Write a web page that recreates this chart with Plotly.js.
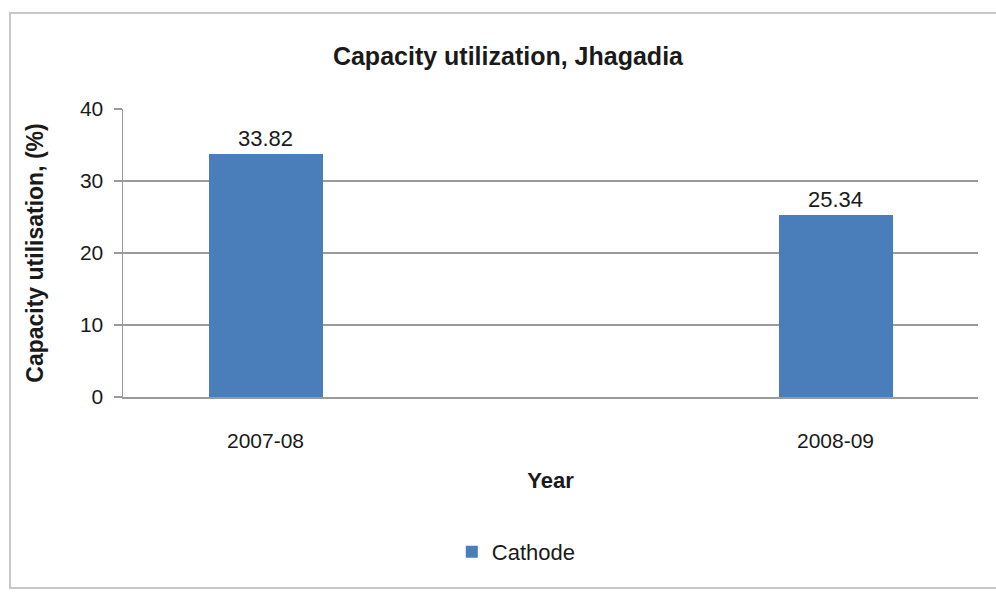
<!DOCTYPE html>
<html>
<head>
<meta charset="utf-8">
<script src="https://cdn.plot.ly/plotly-3.0.1.min.js"></script>
<style>
  html, body { margin: 0; padding: 0; background: #ffffff; overflow: hidden; }
  #wrap { position: relative; width: 996px; height: 592px; overflow: hidden; }
  #chart { width: 996px; height: 592px; }
  #frame { position: absolute; left: 9px; top: 12px; width: 1000px; height: 577px;
           border: 2px solid #c8c8c8; box-sizing: border-box; pointer-events: none; }
</style>
</head>
<body>
<div id="wrap">
  <div id="chart"></div>
  <div id="frame"></div>
</div>
<script>
const years = ["2007-08", "2008-09"];
const cathode = [33.82, 25.34];
const yTicks = [0, 10, 20, 30, 40];

const FONT = "'Liberation Sans Narrow', 'Arial Narrow', 'Liberation Sans', Arial, sans-serif";
const TXT = "#1a1a1a";
const GRID = "#9a9a9a";

const trace = {
  type: "bar",
  name: "Cathode",
  x: years,
  y: cathode,
  width: 0.2,
  marker: { color: "#4a7ebb" },
  text: cathode.map(v => v.toFixed(2)),
  textposition: "outside",
  textfont: { family: FONT, size: 22, color: TXT },
  cliponaxis: false,
  hoverinfo: "x+y"
};

const layout = {
  width: 996,
  height: 592,
  margin: { l: 123, r: 18, t: 109, b: 195 },
  paper_bgcolor: "#ffffff",
  plot_bgcolor: "#ffffff",
  font: { family: FONT, color: TXT },
  title: {
    text: "<b>Capacity utilization, Jhagadia</b>",
    font: { family: FONT, size: 25, color: TXT },
    x: 0.51, xanchor: "center",
    y: 0.905, yanchor: "middle"
  },
  xaxis: {
    type: "category",
    range: [-0.25, 1.25],
    showgrid: false,
    showline: true,
    linecolor: GRID,
    linewidth: 1.5,
    ticks: "",
    ticklabelstandoff: 24,
    tickfont: { family: FONT, size: 21, color: TXT },
    title: { text: "<b>Year</b>", font: { family: FONT, size: 22, color: TXT }, standoff: 22 }
  },
  yaxis: {
    range: [0, 40],
    tickvals: yTicks,
    ticktext: yTicks.map(String),
    showgrid: true,
    gridcolor: GRID,
    gridwidth: 1.5,
    showline: true,
    linecolor: GRID,
    linewidth: 1.5,
    ticks: "outside",
    ticklen: 8,
    tickcolor: GRID,
    tickwidth: 1.5,
    ticklabelstandoff: 6,
    tickfont: { family: FONT, size: 21, color: TXT },
    zeroline: false,
    title: { text: "<b>Capacity utilisation, (%)</b>", font: { family: FONT, size: 23, color: TXT }, standoff: 30 }
  },
  showlegend: true,
  legend: {
    orientation: "h",
    x: 0.46, xanchor: "center",
    y: -0.538, yanchor: "middle",
    font: { family: FONT, size: 22, color: TXT },
    itemwidth: 30
  },
  bargap: 0
};

Plotly.newPlot("chart", [trace], layout, { displayModeBar: false, staticPlot: true });
</script>
</body>
</html>
